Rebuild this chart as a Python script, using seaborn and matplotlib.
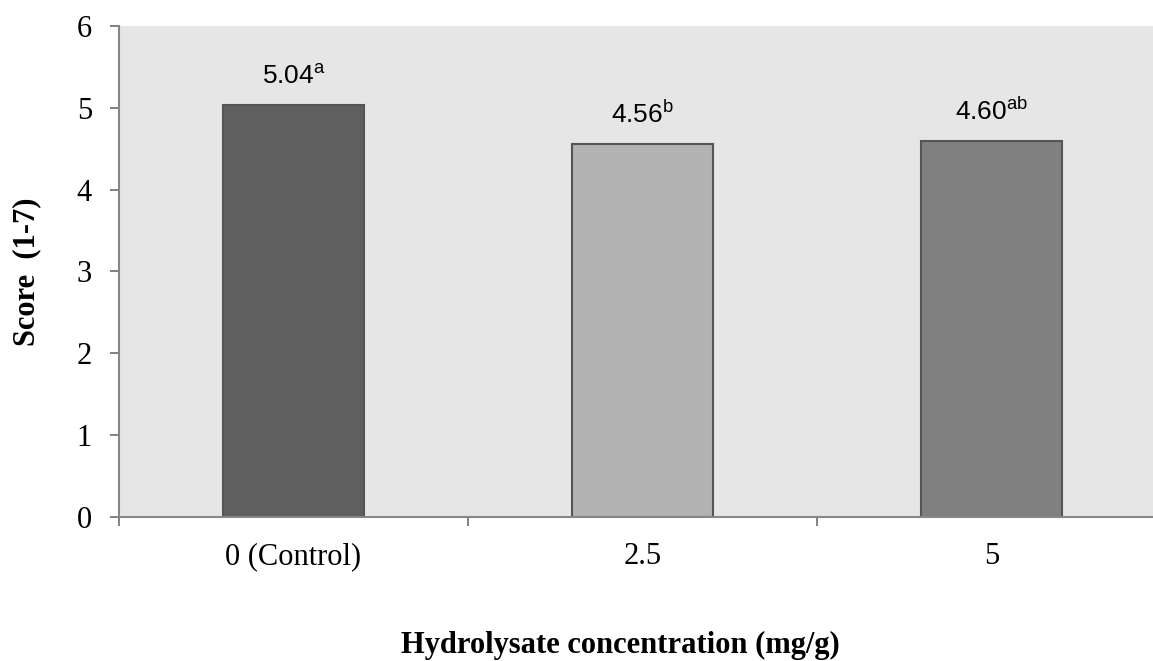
import pandas as pd
import seaborn as sns
import matplotlib.pyplot as plt

# Data
concentrations = ['0 (Control)', '2.5', '5']
scores = [5.04, 4.56, 4.60]
letters = ['a', 'b', 'ab']
bar_colors = ['#5f5f5f', '#b3b3b3', '#808080']

data = pd.DataFrame({'Concentration': concentrations, 'Score': scores})

sns.set_style('white')
plt.rcParams['font.family'] = ['Liberation Serif', 'DejaVu Serif']
plt.rcParams['mathtext.fontset'] = 'custom'
plt.rcParams['mathtext.rm'] = 'Liberation Sans'
plt.rcParams['mathtext.default'] = 'regular'

fig = plt.figure(figsize=(11.53, 6.61), dpi=100)
ax = fig.add_axes([0.1032, 0.2179, 0.908, 0.7428])
ax.set_facecolor('#e6e6e6')

# Bar chart of the mean scores
sns.barplot(x='Concentration', y='Score', data=data, hue='Concentration',
            palette=bar_colors, width=0.404, edgecolor='#555555',
            linewidth=1.5, legend=False, ax=ax)

# Value labels with significance letters
for i, (s, l) in enumerate(zip(scores, letters)):
    ax.text(i, s + 0.25, f'{s:.2f}$^{{{l}}}$', ha='center', va='baseline',
            fontsize=19, family='Liberation Sans', color='black')

ax.set_xlim(-0.5, 2.5)
ax.set_ylim(0, 6)
ax.set_yticks(range(0, 7))

# Ticks at category boundaries on the x-axis
ax.set_xticks([-0.5, 0.5, 1.5, 2.5], minor=True)
ax.tick_params(axis='x', which='both', bottom=True)
ax.tick_params(axis='x', which='major', length=0, pad=18, labelsize=22,
               labelcolor='black')
ax.tick_params(axis='x', which='minor', length=6.5, width=1.4,
               color='#808080', direction='out')
ax.tick_params(axis='y', left=True, length=6.5, width=1.4, color='#808080',
               direction='out', pad=13, labelsize=22, labelcolor='black')

for side in ['top', 'right']:
    ax.spines[side].set_visible(False)
for side in ['left', 'bottom']:
    ax.spines[side].set_color('#878787')
    ax.spines[side].set_linewidth(1.5)

ax.set_xlabel('Hydrolysate concentration (mg/g)', fontsize=22,
              fontweight='bold', color='black')
ax.set_ylabel('Score  (1-7)', fontsize=22, fontweight='bold', color='black')
ax.xaxis.set_label_coords(0.479, -0.232)
ax.yaxis.set_label_coords(-0.074, 0.5)

plt.savefig('out.png', dpi=100)
